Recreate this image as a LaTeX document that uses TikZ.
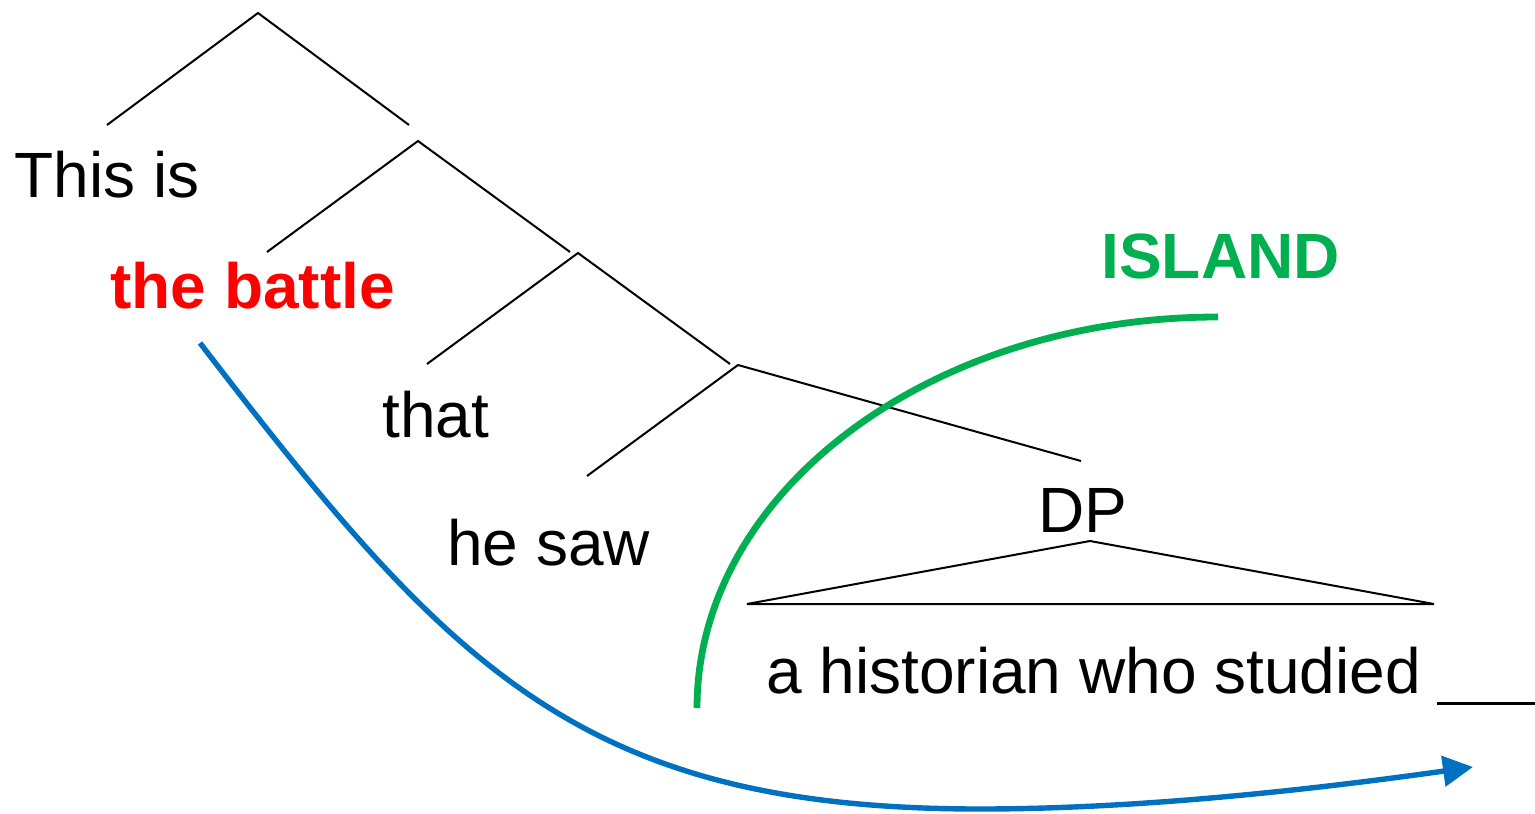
\documentclass[tikz,border=0pt]{standalone}
\usepackage{fontspec}
\setmainfont{Liberation Sans}
\usetikzlibrary{arrows.meta}
\definecolor{myred}{HTML}{FF0000}
\definecolor{mygreen}{HTML}{00B050}
\definecolor{myblue}{HTML}{0070C0}
\tikzset{
  word/.style={anchor=base west,inner sep=0pt,font=\fontsize{32}{38}\selectfont},
  branch/.style={draw=black,line width=1pt,line join=miter},
}
\begin{document}
\begin{tikzpicture}[x=0.5pt,y=-0.5pt]
\useasboundingbox (0,0) rectangle (1535,813);
% texts
\node[word] (thisis) at (14,197) {This is};
\node[word,text=myred,font=\fontsize{32}{38}\selectfont\bfseries] (battle) at (110,308) {the battle};
\node[word] (that) at (382,437) {that};
\node[word] (hesaw) at (447,565) {he saw};
\node[word] (dp) at (1038,532) {DP};
\node[word] (hist) at (766,693) {a historian who studied};
\node[word,text=mygreen,font=\fontsize{32}{38}\selectfont\bfseries] (island) at (1101,278) {ISLAND};
% tree coordinates
\coordinate (r1) at (258,13);   \coordinate (l1) at (107,125);  \coordinate (e1) at (409,125);
\coordinate (r2) at (418,141);  \coordinate (l2) at (267,252);  \coordinate (e2) at (570,252);
\coordinate (r3) at (578,253);  \coordinate (l3) at (427,364);  \coordinate (e3) at (730,364);
\coordinate (r4) at (738,365);  \coordinate (l4) at (587,476);  \coordinate (e4) at (1081,461);
\coordinate (t0) at (1090,541); \coordinate (tl) at (747,604);  \coordinate (tr) at (1434,604);
\draw[branch] (l1) -- (r1) -- (e1);
\draw[branch] (l2) -- (r2) -- (e2);
\draw[branch] (l3) -- (r3) -- (e3);
\draw[branch] (l4) -- (r4) -- (e4);
\draw[branch] (tl) -- (t0) -- (tr) -- cycle;
% gap line
\coordinate (g1) at (1437,703); \coordinate (g2) at (1535,703);
\draw[line width=1.5pt] (g1) -- (g2);
% island boundary
\coordinate (is1) at (697,708); \coordinate (is2) at (1218,317);
\draw[mygreen,line width=3.4pt] (is1) .. controls (697,492) and (930,317) .. (is2);
% movement arrow
\coordinate (m1) at (200,343); \coordinate (mb) at (980,809); \coordinate (m2) at (1473,767);
\draw[myblue,line width=2.7pt,-{Triangle[length=15pt,width=15pt]}]
  (m1) .. controls (450,668) and (580,809) .. (mb)
       .. controls (1150,809) and (1330,787) .. (m2);
\end{tikzpicture}
\end{document}
